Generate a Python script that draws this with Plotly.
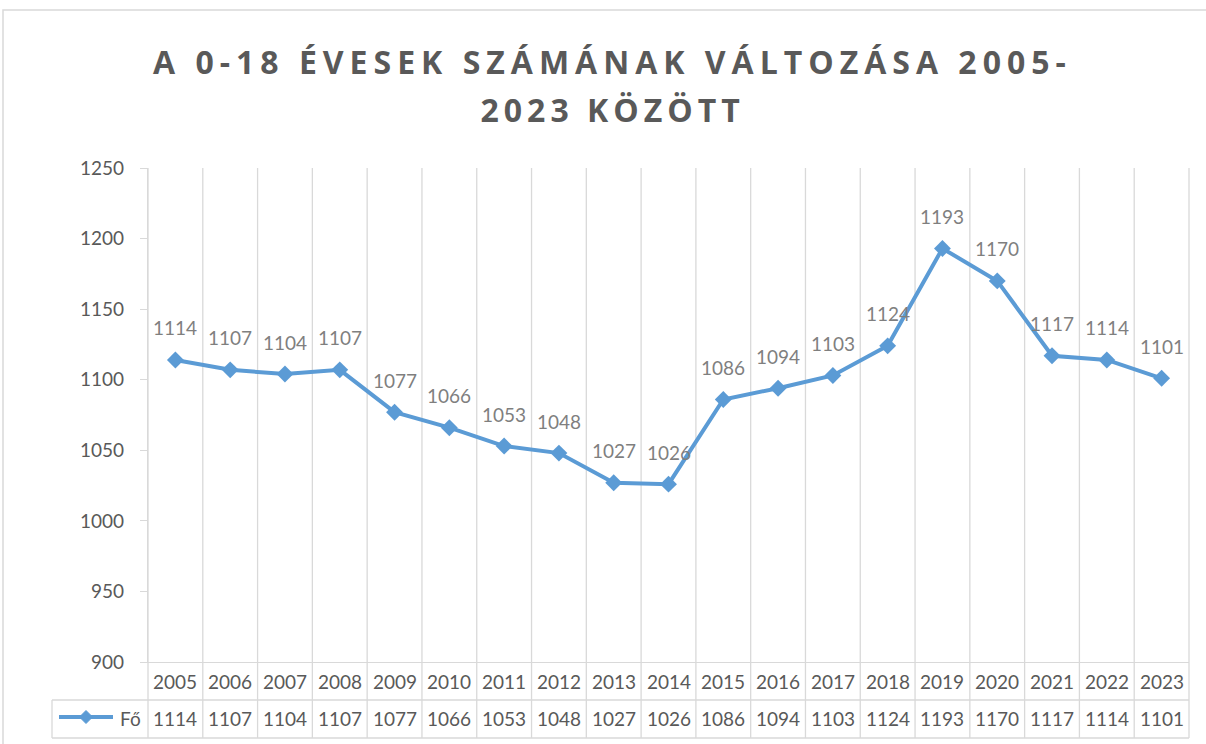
import plotly.graph_objects as go

years = ["2005", "2006", "2007", "2008", "2009", "2010", "2011", "2012", "2013", "2014",
         "2015", "2016", "2017", "2018", "2019", "2020", "2021", "2022", "2023"]
values = [1114, 1107, 1104, 1107, 1077, 1066, 1053, 1048, 1027, 1026,
          1086, 1094, 1103, 1124, 1193, 1170, 1117, 1114, 1101]
series_name = "Fő"
title_lines = ["A 0-18 ÉVESEK SZÁMÁNAK VÁLTOZÁSA 2005-", "2023 KÖZÖTT"]
y_ticks = [900, 950, 1000, 1050, 1100, 1150, 1200, 1250]

FIG_W, FIG_H = 1206, 744
L, R, T, B = 148, 1189, 168, 662
W, H = R - L, B - T

LINE_COLOR = "#5b9bd5"
GRID = "#d9d9d9"
TXT = "#595959"
LBL = "#7f7f7f"
FONT = "Lato"
FS = 19


def pxp(x):
    return (x - L) / W


def py(y):
    return (B - y) / H


fig = go.Figure()
fig.add_trace(go.Scatter(
    x=list(range(len(years))), y=values, mode="lines+markers", name=series_name,
    line=dict(color=LINE_COLOR, width=4),
    marker=dict(symbol="diamond", size=13, color=LINE_COLOR),
    showlegend=False, hoverinfo="x+y",
))

shapes = []
for k in range(1, len(years)):
    shapes.append(dict(type="line", xref="x", yref="paper", x0=k - 0.5, x1=k - 0.5,
                       y0=py(738), y1=1, line=dict(color=GRID, width=1.3), layer="below"))
for xp in (0, 1):
    shapes.append(dict(type="line", xref="paper", yref="paper", x0=xp, x1=xp,
                       y0=py(738), y1=1, line=dict(color=GRID, width=1.3), layer="below"))
for yy in (700, 738):
    shapes.append(dict(type="line", xref="paper", yref="paper", x0=pxp(52), x1=1,
                       y0=py(yy), y1=py(yy), line=dict(color=GRID, width=1.3), layer="below"))
shapes.append(dict(type="line", xref="paper", yref="paper", x0=pxp(52), x1=pxp(52),
                   y0=py(700), y1=py(738), line=dict(color=GRID, width=1.3), layer="below"))
shapes.append(dict(type="rect", xref="paper", yref="paper", x0=pxp(3), x1=pxp(1215),
                   y0=py(760), y1=py(10), line=dict(color=GRID, width=1.5), layer="below"))
shapes.append(dict(type="line", xref="paper", yref="paper", x0=pxp(59), x1=pxp(113),
                   y0=py(717), y1=py(717), line=dict(color=LINE_COLOR, width=4)))
shapes.append(dict(type="path", xref="paper", yref="paper", xsizemode="pixel", ysizemode="pixel",
                   xanchor=pxp(86), yanchor=py(717), path="M -6.5 0 L 0 6.5 L 6.5 0 L 0 -6.5 Z",
                   fillcolor=LINE_COLOR, line=dict(color=LINE_COLOR, width=1)))

annotations = []
for i, (yr, v) in enumerate(zip(years, values)):
    annotations.append(dict(x=i, y=v, xref="x", yref="y", text=str(v), showarrow=False,
                            yshift=32, font=dict(family=FONT, size=FS, color=LBL)))
    annotations.append(dict(x=i, y=py(681), xref="x", yref="paper", text=yr, showarrow=False,
                            yanchor="middle", font=dict(family=FONT, size=FS, color=TXT)))
    annotations.append(dict(x=i, y=py(718), xref="x", yref="paper", text=str(v), showarrow=False,
                            yanchor="middle", font=dict(family=FONT, size=FS, color=TXT)))
annotations.append(dict(x=pxp(143), y=py(718), xref="paper", yref="paper", text=series_name,
                        showarrow=False, xanchor="right", yanchor="middle",
                        font=dict(family=FONT, size=FS, color=TXT)))
for txt, yc in zip(title_lines, (61, 109)):
    annotations.append(dict(x=pxp(612), y=py(yc), xref="paper", yref="paper",
                            text=txt, showarrow=False, xanchor="center", yanchor="middle",
                            font=dict(family="Open Sans", size=32, color=TXT, weight="bold")))

fig.update_layout(
    width=FIG_W, height=FIG_H,
    margin=dict(l=L, r=FIG_W - R, t=T, b=FIG_H - B, autoexpand=False),
    paper_bgcolor="white", plot_bgcolor="white",
    shapes=shapes, annotations=annotations,
    xaxis=dict(range=[-0.5, len(years) - 0.5], showgrid=False, zeroline=False,
               showticklabels=False, ticks="", showline=True, linecolor=GRID, linewidth=1.3),
    yaxis=dict(range=[900, 1250], tickvals=y_ticks, showgrid=False, zeroline=False,
               showline=True, linecolor=GRID, linewidth=1.3, ticks="outside", ticklen=7,
               tickcolor=GRID, tickwidth=1.3, ticklabelstandoff=12,
               tickfont=dict(family=FONT, size=FS, color=TXT)),
)

post = """
document.querySelectorAll('.annotation-text').forEach(function(t){
  var s = t.textContent;
  if (s.indexOf('ÉVESEK') >= 0) { t.style.letterSpacing = '6px'; }
  if (s.indexOf('KÖZÖTT') >= 0) { t.style.letterSpacing = '5px'; }
});
"""
fig.write_html("out.html", post_script=post)
